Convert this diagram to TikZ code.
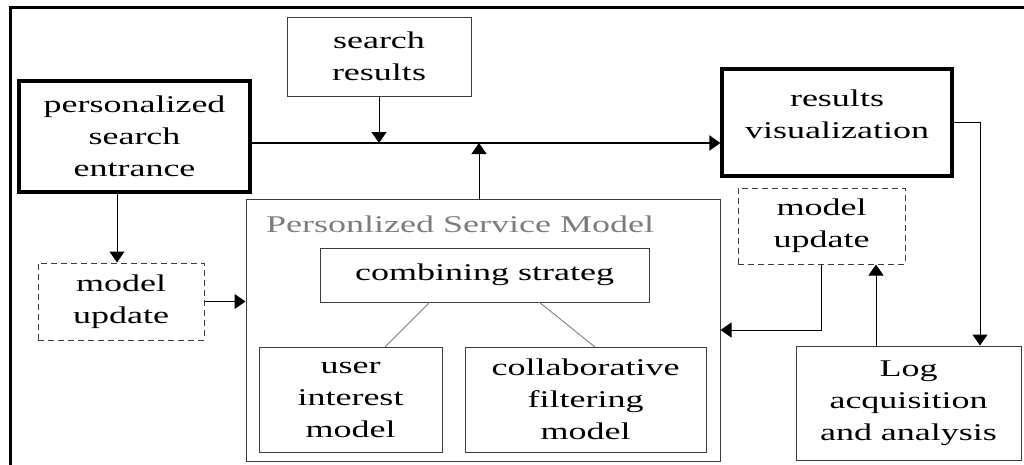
\documentclass[tikz,border=0pt]{standalone}
\usepackage{fontspec}
\setmainfont{Liberation Serif}[FakeStretch=1.5]
\usetikzlibrary{arrows.meta}
\definecolor{thin}{RGB}{60,60,60}
\definecolor{titlegray}{RGB}{125,125,125}
\tikzset{
  txt/.style={font=\fontsize{24}{32}\selectfont, align=center, inner sep=0pt, text=black},
  thickbox/.style={txt, draw=black, line width=3.2pt},
  thinbox/.style={txt, draw=thin, line width=1pt},
  dashbox/.style={txt, draw=thin, line width=1pt, dash pattern=on 6pt off 4pt},
  tip/.style={-{Triangle[length=11pt,width=15pt]}},
  conn/.style={draw=black, line width=1pt},
  mainline/.style={draw=black, line width=2pt},
  treeline/.style={draw=gray, line width=0.9pt}
}
\begin{document}
\begin{tikzpicture}[x=1pt,y=-1pt]
\useasboundingbox (0,0) rectangle (1024,464);
% outer frame
\coordinate (fbl) at (10,466);
\coordinate (ftl) at (10,7);
\coordinate (ftr) at (1026,7);
\draw[line width=3pt] (fbl) -- (ftl) -- (ftr);

% boxes
\node[thickbox, minimum width=231pt, minimum height=111pt] (ent) at (134.5,136.5) {personalized\\search\\entrance};
\node[thinbox, minimum width=184pt, minimum height=79pt] (sr) at (379,56.5) {search\\results};
\node[thickbox, minimum width=230pt, minimum height=107pt] (rv) at (837,122.5) {};
\node[txt] (rvtext) at (837,114) {results\\visualization};
\node[thinbox, minimum width=474pt, minimum height=262pt] (psm) at (483,330) {};
\node[txt, text=titlegray, anchor=west] (psmtitle) at (266,224) {Personlized Service Model};
\node[thinbox, minimum width=329pt, minimum height=54pt] (cs) at (484.5,275) {combining strateg};
\node[thinbox, minimum width=183pt, minimum height=105pt] (ui) at (350.5,399.5) {user\\interest\\model};
\node[thinbox, minimum width=241pt, minimum height=105pt] (cf) at (585.5,399.5) {collaborative\\filtering\\model};
\node[dashbox, minimum width=166pt, minimum height=77pt] (mu1) at (121,301.5) {model\\update};
\node[dashbox, minimum width=167pt, minimum height=76pt] (mu2) at (821.5,226) {model\\update};
\node[thinbox, minimum width=225pt, minimum height=114pt] (log) at (908.5,403) {Log\\acquisition\\and analysis};

% helper coordinates
\coordinate (mainy) at (0,143);
\coordinate (upx) at (479,0);
\coordinate (entx) at (117,0);
\coordinate (logx) at (876,0);
\coordinate (rvx) at (980,0);
\coordinate (csl) at (430,302);
\coordinate (uit) at (385,347);
\coordinate (csr) at (539,302);
\coordinate (cft) at (595,347);

% connectors
\draw[mainline, tip] (ent.east |- mainy) -- (rv.west |- mainy);
\draw[conn, tip] (sr.south) -- (sr.south |- mainy);
\draw[conn, tip] (upx |- psm.north) -- (upx |- mainy);
\draw[conn, tip] (entx |- ent.south) -- (entx |- mu1.north);
\draw[conn, tip] (mu1.east) -- (mu1.east -| psm.west);
\draw[conn, tip] (mu2.south) |- (psm.east);
\draw[conn, tip] (logx |- log.north) -- (logx |- mu2.south);
\draw[conn, tip] (rv.east) -| (rvx |- log.north);
\draw[treeline] (csl) -- (uit);
\draw[treeline] (csr) -- (cft);
\end{tikzpicture}
\end{document}
